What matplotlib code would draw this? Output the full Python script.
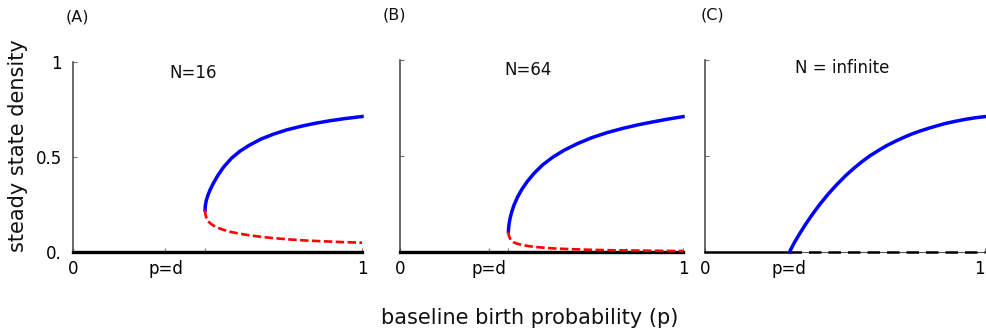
import matplotlib
matplotlib.use("Agg")
import matplotlib.pyplot as plt

# ---- data ----
d_A, fold_A = 0.32, 0.457
d_B, fold_B = 0.315, 0.383
d_C = 0.30

A_up_p = [0.457, 0.458, 0.461, 0.466, 0.474, 0.485, 0.50, 0.52, 0.548, 0.578, 0.61, 0.65, 0.693,
          0.74, 0.79, 0.84, 0.89, 0.94, 1.0]
A_up_y = [0.220, 0.245, 0.270, 0.295, 0.326, 0.360, 0.400, 0.445, 0.493, 0.531, 0.562, 0.594, 0.620,
          0.643, 0.662, 0.678, 0.691, 0.702, 0.713]
A_lo_p = [0.457, 0.458, 0.461, 0.466, 0.474, 0.485, 0.50, 0.52, 0.545, 0.578, 0.61, 0.65, 0.693,
          0.75, 0.81, 0.87, 0.935, 1.0]
A_lo_y = [0.220, 0.200, 0.182, 0.166, 0.152, 0.140, 0.128, 0.117, 0.106, 0.096, 0.088, 0.080, 0.073,
          0.066, 0.060, 0.056, 0.052, 0.049]

B_up_p = [0.383, 0.384, 0.386, 0.39, 0.395, 0.403, 0.415, 0.43, 0.45, 0.475, 0.505, 0.54, 0.58,
          0.625, 0.675, 0.73, 0.785, 0.84, 0.895, 0.95, 1.0]
B_up_y = [0.106, 0.128, 0.152, 0.182, 0.210, 0.245, 0.285, 0.325, 0.368, 0.412, 0.455, 0.494, 0.530,
          0.563, 0.594, 0.621, 0.643, 0.662, 0.678, 0.693, 0.705]
B_lo_p = [0.383, 0.384, 0.387, 0.392, 0.40, 0.412, 0.43, 0.453, 0.48, 0.51, 0.55, 0.60, 0.66,
          0.75, 0.87, 1.0]
B_lo_y = [0.106, 0.090, 0.075, 0.062, 0.052, 0.044, 0.037, 0.031, 0.026, 0.022, 0.018, 0.015, 0.012,
          0.009, 0.007, 0.005]

C_up_p = [0.302, 0.31, 0.32, 0.34, 0.36, 0.385, 0.41, 0.44, 0.47, 0.504, 0.53, 0.56, 0.59, 0.623,
          0.65, 0.68, 0.71, 0.741, 0.77, 0.80, 0.83, 0.86, 0.895, 0.93, 0.965, 1.0]
C_up_y = [0.0, 0.024, 0.051, 0.100, 0.146, 0.199, 0.248, 0.302, 0.350, 0.400, 0.434, 0.470, 0.502, 0.532,
          0.555, 0.577, 0.597, 0.616, 0.631, 0.645, 0.658, 0.670, 0.681, 0.691, 0.699, 0.705]

panel_tags = ["(A)", "(B)", "(C)"]
panel_titles = ["N=16", "N=64", "N = infinite"]
title_pos = [(0.415, 0.94), (0.452, 0.95), (0.49, 0.96)]

plt.rcParams['font.family'] = ['DejaVu Sans']

W, H = 986, 334
fig = plt.figure(figsize=(W / 100, H / 100), dpi=100)

def px_axes(x0, x1, ytop, ybot):
    return fig.add_axes([x0 / W, 1 - ybot / H, (x1 - x0) / W, (ybot - ytop) / H])

axA = px_axes(73, 362, 62, 252)
axB = px_axes(400, 683, 60, 252)
axC = px_axes(705, 985, 60, 252)

BLUE = '#0000ff'
RED = '#ff0000'

for ax in (axA, axB, axC):
    ax.set_xlim(0, 1)
    ax.set_ylim(0, 1)
    ax.spines['top'].set_visible(False)
    ax.spines['right'].set_visible(False)
    ax.spines['left'].set_color('#404040')
    ax.spines['left'].set_linewidth(1.1)
    ax.spines['bottom'].set_color('#555555')
    ax.spines['bottom'].set_linewidth(0.8)
    ax.tick_params(direction='in', length=3, width=0.8, color='#707070',
                   labelsize=12, pad=6)
    ax.tick_params(axis='y', pad=8)
    ax.set_facecolor('none')

# Panel A
axA.plot([0, 1], [0, 0], color='black', lw=2.4, clip_on=False, zorder=3)
axA.plot(A_up_p, A_up_y, color=BLUE, lw=2.5, clip_on=False, zorder=4, solid_joinstyle='round')
axA.plot(A_lo_p, A_lo_y, color=RED, lw=1.9, ls=(0, (3.2, 1.3)), clip_on=False, zorder=4)
axA.set_xticks([0, d_A, fold_A, 1])
axA.set_xticklabels(['0', 'p=d', '', '1'])
axA.set_yticks([0, 0.5, 1])
axA.set_yticklabels(['0.', '0.5', '1'])

# Panel B
axB.plot([0, 1], [0, 0], color='black', lw=2.4, clip_on=False, zorder=3)
axB.plot(B_up_p, B_up_y, color=BLUE, lw=2.5, clip_on=False, zorder=4, solid_joinstyle='round')
axB.plot(B_lo_p, B_lo_y, color=RED, lw=1.9, ls=(0, (3.2, 1.3)), clip_on=False, zorder=4)
axB.set_xticks([0, d_B, fold_B, 0.8, 1])
axB.set_xticklabels(['0', 'p=d', '', '', '1'])
axB.set_yticks([0, 0.5, 1])
axB.set_yticklabels(['', '', ''])

# Panel C
axC.plot([0, d_C], [0, 0], color='black', lw=1.8, clip_on=False, zorder=3)
axC.plot([d_C, 1], [0, 0], color='black', lw=1.8, ls=(0, (5, 2.8)), clip_on=False, zorder=3)
axC.plot(C_up_p, C_up_y, color=BLUE, lw=2.5, clip_on=False, zorder=4, solid_joinstyle='round')
axC.set_xticks([0, d_C, 1])
axC.set_xticklabels(['0', 'p=d', '1'])
axC.get_xticklabels()[-1].set_horizontalalignment('right')
axC.set_yticks([0, 0.5, 1])
axC.set_yticklabels(['', '', ''])

for ax, t, (tx, ty) in zip((axA, axB, axC), panel_titles, title_pos):
    ax.text(tx, ty, t, ha='center', va='center', fontsize=12, color='#111111')

for (x, y), tag in zip([(77.5, 17), (394, 15), (712, 15)], panel_tags):
    fig.text(x / W, 1 - y / H, tag, ha='center', va='center', fontsize=11.5, color='#111111')

fig.text(18 / W, 1 - 146 / H, 'steady state density', rotation=90,
         ha='center', va='center', fontsize=15, color='#111111')
fig.text(530 / W, 1 - 318 / H, 'baseline birth probability (p)',
         ha='center', va='center', fontsize=15, color='#111111')

fig.savefig('out.png', dpi=100)
